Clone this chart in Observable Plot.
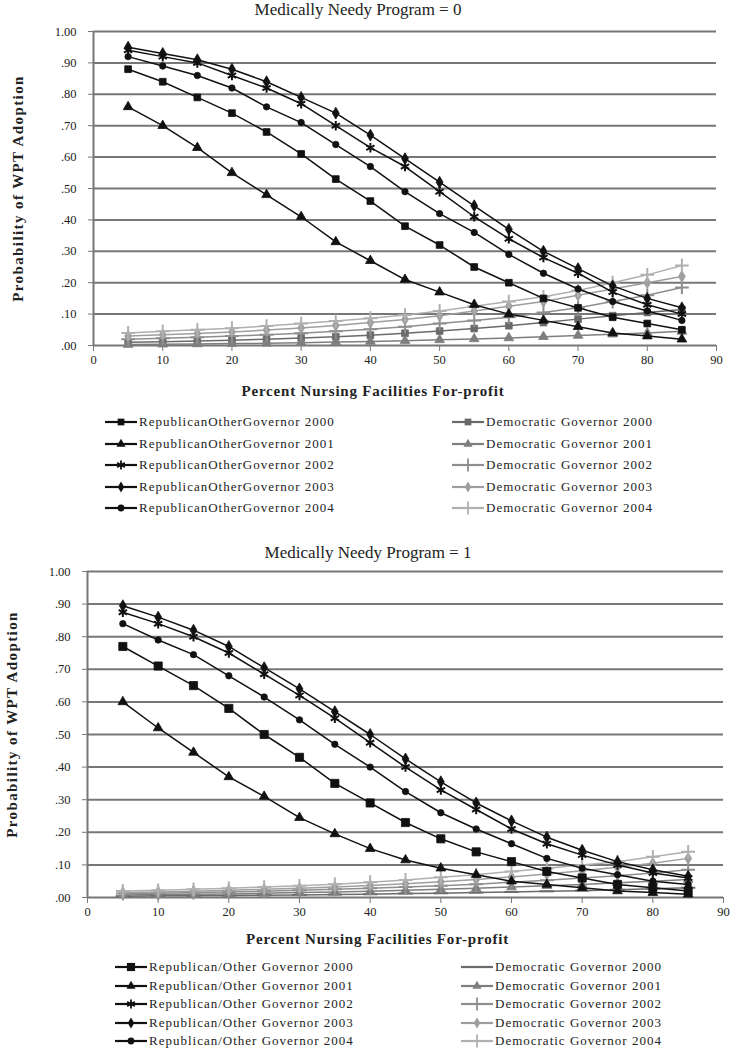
<!DOCTYPE html>
<html>
<head>
<meta charset="utf-8">
<script src="https://cdn.jsdelivr.net/npm/d3@7"></script>
<script src="https://cdn.jsdelivr.net/npm/@observablehq/plot@0.6"></script>
<style>
  html, body { margin: 0; padding: 0; background: #fff; }
  #root { position: relative; width: 733px; height: 1050px; font-family: "Liberation Serif", "Times New Roman", "DejaVu Serif", serif; color: #222; }
  .title { position: absolute; font-size: 17px; white-space: nowrap; transform: translateX(-50%); }
  .leg { position: absolute; display: flex; align-items: center; font-size: 13px; letter-spacing: 1px; white-space: nowrap; height: 14px; }
  .leg svg { display: block; margin-right: 1px; }
  .chart { position: absolute; left: 0; }
</style>
</head>
<body>
<div id="root"></div>
<script>
// ---------- data ----------
const pct = [5, 10, 15, 20, 25, 30, 35, 40, 45, 50, 55, 60, 65, 70, 75, 80, 85];
const xTicks = [0, 10, 20, 30, 40, 50, 60, 70, 80, 90];
const yTicks = [0, 0.1, 0.2, 0.3, 0.4, 0.5, 0.6, 0.7, 0.8, 0.9, 1.0];

const titles = ["Medically Needy Program = 0", "Medically Needy Program = 1"];
const xTitle = "Percent Nursing Facilities For-profit";
const yTitle = "Probability of WPT Adoption";

const names0 = [
  "RepublicanOtherGovernor 2000", "RepublicanOtherGovernor 2001", "RepublicanOtherGovernor 2002",
  "RepublicanOtherGovernor 2003", "RepublicanOtherGovernor 2004",
  "Democratic Governor 2000", "Democratic Governor 2001", "Democratic Governor 2002",
  "Democratic Governor 2003", "Democratic Governor 2004"
];
const names1 = [
  "Republican/Other Governor 2000", "Republican/Other Governor 2001", "Republican/Other Governor 2002",
  "Republican/Other Governor 2003", "Republican/Other Governor 2004",
  "Democratic Governor 2000", "Democratic Governor 2001", "Democratic Governor 2002",
  "Democratic Governor 2003", "Democratic Governor 2004"
];

// Medically Needy Program = 0
const p0Rep2000 = [.88, .84, .79, .74, .68, .61, .53, .46, .38, .32, .25, .20, .15, .12, .09, .07, .05];
const p0Rep2001 = [.76, .70, .63, .55, .48, .41, .33, .27, .21, .17, .13, .10, .08, .06, .04, .03, .02];
const p0Rep2002 = [.94, .92, .90, .86, .82, .77, .70, .63, .57, .49, .41, .34, .28, .23, .17, .13, .10];
const p0Rep2003 = [.95, .93, .91, .88, .84, .79, .74, .67, .595, .52, .445, .37, .30, .245, .19, .15, .12];
const p0Rep2004 = [.92, .89, .86, .82, .76, .71, .64, .57, .49, .42, .36, .29, .23, .18, .14, .11, .08];
const p0Dem2000 = [.010, .012, .014, .017, .020, .024, .028, .033, .039, .046, .054, .063, .073, .084, .095, .105, .115];
const p0Dem2001 = [.003, .004, .005, .006, .007, .009, .011, .013, .015, .018, .021, .024, .028, .032, .036, .040, .045];
const p0Dem2002 = [.020, .023, .026, .030, .034, .039, .045, .052, .060, .070, .080, .090, .105, .120, .140, .160, .185];
const p0Dem2003 = [.030, .034, .038, .043, .049, .056, .064, .073, .083, .095, .110, .125, .140, .160, .180, .200, .220];
const p0Dem2004 = [.040, .045, .050, .055, .062, .070, .078, .087, .097, .110, .125, .140, .155, .175, .200, .225, .255];

// Medically Needy Program = 1
const p1Rep2000 = [.77, .71, .65, .58, .50, .43, .35, .29, .23, .18, .14, .11, .08, .06, .04, .03, .02];
const p1Rep2001 = [.60, .52, .445, .37, .31, .245, .195, .15, .115, .09, .07, .05, .04, .03, .02, .015, .01];
const p1Rep2002 = [.875, .84, .80, .75, .685, .62, .55, .475, .40, .33, .27, .21, .165, .13, .10, .075, .06];
const p1Rep2003 = [.895, .86, .82, .77, .705, .64, .57, .50, .425, .355, .29, .235, .185, .145, .11, .085, .065];
const p1Rep2004 = [.84, .79, .745, .68, .615, .545, .47, .40, .325, .26, .21, .165, .12, .09, .07, .05, .04];
const p1Dem2000 = [.004, .005, .005, .006, .007, .008, .009, .010, .012, .013, .015, .017, .019, .021, .024, .027, .030];
const p1Dem2001 = [.008, .009, .010, .011, .013, .015, .017, .019, .022, .025, .028, .032, .036, .040, .045, .050, .055];
const p1Dem2002 = [.012, .013, .015, .017, .019, .022, .025, .028, .032, .036, .041, .047, .053, .060, .067, .075, .085];
const p1Dem2003 = [.015, .017, .019, .022, .025, .028, .032, .037, .042, .048, .055, .063, .072, .082, .093, .105, .120];
const p1Dem2004 = [.020, .022, .025, .028, .032, .036, .041, .047, .054, .062, .070, .080, .090, .100, .110, .125, .140];

const values0 = [p0Rep2000, p0Rep2001, p0Rep2002, p0Rep2003, p0Rep2004, p0Dem2000, p0Dem2001, p0Dem2002, p0Dem2003, p0Dem2004];
const values1 = [p1Rep2000, p1Rep2001, p1Rep2002, p1Rep2003, p1Rep2004, p1Dem2000, p1Dem2001, p1Dem2002, p1Dem2003, p1Dem2004];

// ---------- styles ----------
const colors = ["#111", "#111", "#111", "#111", "#111", "#6a6a6a", "#7e7e7e", "#8e8e8e", "#9e9e9e", "#b0b0b0"];
const symbols0 = ["square", "triangle", "asterisk", "diamond", "circle", "square", "triangle", "plus", "diamond", "plus"];
const symbols1 = ["square", "triangle", "asterisk", "diamond", "circle", "dash", "triangle", "plus", "diamond", "plus"];
const strokeOnly = new Set(["asterisk", "plus", "times", "dash"]);
const dashSymbol = {
  draw(ctx, size) { const w = Math.sqrt(size) * 0.9; ctx.moveTo(-w, 0); ctx.lineTo(w, 0); }
};
const symObj = {
  square: d3.symbolSquare, triangle: d3.symbolTriangle, diamond: d3.symbolDiamond,
  circle: d3.symbolCircle, asterisk: d3.symbolAsterisk, plus: d3.symbolPlus, times: d3.symbolTimes,
  dash: dashSymbol
};

const root = document.getElementById("root");
const fmt = d => d === 1 ? "1.00" : d3.format(".2f")(d).replace(/^0/, "");
const SERIF = '"Liberation Serif", "Times New Roman", "DejaVu Serif", serif';

function rowsFor(names, values) {
  const rows = [];
  names.forEach((n, i) => values[i].forEach((v, j) => rows.push({series: n, idx: i, x: pct[j], y: v})));
  return rows;
}

function makePanel(cfg) {
  const rows = rowsFor(cfg.names, cfg.values);
  const order = [5, 6, 7, 8, 9, 1, 0, 4, 2, 3];
  const marks = [
    Plot.ruleY(yTicks, {stroke: "#777", strokeWidth: 2}),
    Plot.ruleX([0], {stroke: "#777", strokeWidth: 2}),
    Plot.axisX({ticks: xTicks, tickSize: 6, tickPadding: 4, stroke: "#777", tickFormat: d => String(d), label: null, fontSize: 12.5}),
    Plot.axisY({ticks: yTicks, tickSize: 5, tickPadding: 12, stroke: "#777", tickFormat: fmt, label: null, fontSize: 12.5}),
    Plot.text([xTitle], {frameAnchor: "bottom", dx: cfg.xTitleDx, dy: cfg.xTitleDy, fontWeight: "bold", fontSize: 15, fill: "#222"}),
    Plot.text([yTitle], {frameAnchor: "left", textAnchor: "middle", dx: -75, dy: cfg.yTitleDy, rotate: -90, fontWeight: "bold", fontSize: 15, fill: "#222"})
  ];
  for (const i of order) {
    const data = rows.filter(d => d.idx === i);
    const sym = cfg.symbols[i];
    const rr = sym === "square" ? cfg.sqR : (sym === "circle" ? 3.2 : 3.6);
    marks.push(Plot.line(data, {x: "x", y: "y", stroke: colors[i], strokeWidth: 1.5}));
    if (strokeOnly.has(sym)) {
      marks.push(Plot.dot(data, {x: "x", y: "y", symbol: symObj[sym], r: 4.5, stroke: colors[i], strokeWidth: 2, fill: "none"}));
    } else {
      marks.push(Plot.dot(data, {x: "x", y: "y", symbol: symObj[sym], r: rr, fill: colors[i], stroke: colors[i], strokeWidth: 0.8}));
    }
  }
  const svg = Plot.plot({
    width: 733, height: cfg.height,
    marginLeft: cfg.ml, marginRight: cfg.mr, marginTop: cfg.mt, marginBottom: cfg.mb,
    style: {fontFamily: SERIF, fontSize: "12px", color: "#222", background: "transparent", overflow: "visible"},
    x: {domain: [0, 90]},
    y: {domain: [0, 1]},
    marks
  });
  d3.select(svg).selectAll("text").filter(function () { return this.textContent === xTitle; })
    .attr("letter-spacing", "0.8px");
  d3.select(svg).selectAll("text").filter(function () { return this.textContent === yTitle; })
    .attr("letter-spacing", "1.4px");
  d3.select(svg).selectAll("text").attr("font-family", SERIF);

  const wrap = document.createElement("div");
  wrap.className = "chart";
  wrap.style.top = cfg.top + "px";
  wrap.appendChild(svg);
  root.appendChild(wrap);

  const t = document.createElement("div");
  t.className = "title";
  t.textContent = cfg.title;
  t.style.left = cfg.titleX + "px";
  t.style.top = cfg.titleY + "px";
  root.appendChild(t);

  // legend
  cfg.names.forEach((n, i) => {
    const col = i < 5 ? 0 : 1;
    const row = i % 5;
    const item = document.createElement("div");
    item.className = "leg";
    item.style.left = cfg.legX[col] + "px";
    item.style.top = (cfg.legY0 + row * cfg.legDy - 7) + "px";
    const s = d3.create("svg").attr("width", 34).attr("height", 14);
    s.append("line").attr("x1", 1).attr("x2", 33).attr("y1", 7).attr("y2", 7)
      .attr("stroke", colors[i]).attr("stroke-width", 2.2);
    const sym = cfg.symbols[i];
    const so = strokeOnly.has(sym);
    const rr = sym === "square" ? cfg.sqR : 3.4;
    const r = so ? 4.2 : rr;
    const p = s.append("path").attr("transform", "translate(17,7)")
      .attr("d", d3.symbol(symObj[sym], Math.PI * r * r)());
    if (so) p.attr("fill", "none").attr("stroke", colors[i]).attr("stroke-width", 1.8);
    else p.attr("fill", colors[i]);
    item.appendChild(s.node());
    const span = document.createElement("span");
    span.textContent = n;
    item.appendChild(span);
    root.appendChild(item);
  });
}

makePanel({
  names: names0, values: values0, symbols: symbols0, title: titles[0],
  top: 20, height: 392, ml: 93, mr: 17, mt: 11, mb: 67, xTitleDx: -32, xTitleDy: 50, yTitleDy: 0, sqR: 3.8,
  titleX: 358, titleY: 0,
  legX: [104, 451], legY0: 422, legDy: 21.5
});
makePanel({
  names: names1, values: values1, symbols: symbols1, title: titles[1],
  top: 560, height: 395, ml: 87, mr: 10, mt: 11, mb: 58, xTitleDx: -28, xTitleDy: 46, yTitleDy: -10, sqR: 4.6,
  titleX: 368, titleY: 543,
  legX: [114, 460], legY0: 967, legDy: 18.5
});
</script>
</body>
</html>
